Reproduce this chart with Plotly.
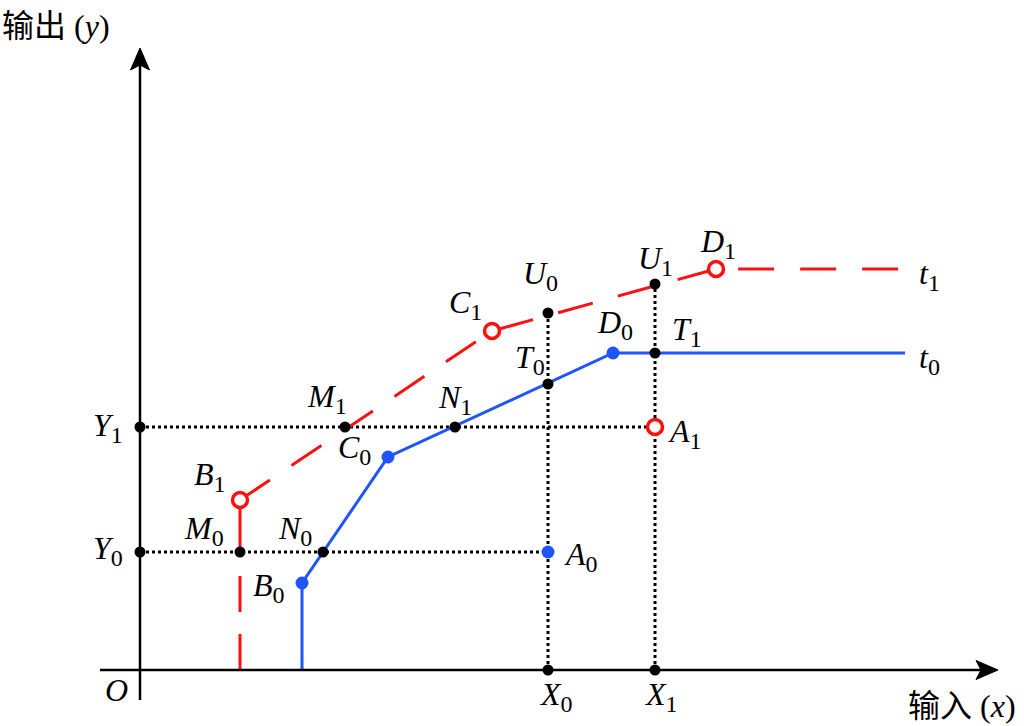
import plotly.graph_objects as go

# ---- data (arbitrary units) ----
X0, X1 = 40.8, 51.5
Y0, Y1 = 11.8, 24.3

t0_x = [16.2, 16.2, 24.8, 47.3, 76.5]
t0_y = [0.0, 8.7, 21.3, 31.7, 31.7]

t1_x = [10.0, 35.2, 57.6, 76.5]
t1_y = [17.0, 33.9, 40.1, 40.1]

B1 = (10.0, 17.0)
C1 = (35.2, 33.9)
D1 = (57.6, 40.1)
B0 = (16.2, 8.7)
C0 = (24.8, 21.3)
D0 = (47.3, 31.7)
A0 = (X0, Y0)
A1 = (X1, Y1)
U0 = (X0, 35.7)
T0 = (X0, 28.6)
U1 = (X1, 38.6)
T1 = (X1, 31.7)
M0 = (10.0, Y0)
N0 = (18.3, Y0)
M1 = (20.5, Y1)
N1 = (31.5, Y1)

RED = "#ff1010"
BLUE = "#1f55ff"
FONT = "Liberation Serif"

fig = go.Figure()

# dotted guide lines
def dotted(xs, ys):
    fig.add_trace(go.Scatter(x=xs, y=ys, mode="lines",
                             line=dict(color="black", width=3, dash="3px,3px"),
                             hoverinfo="skip", showlegend=False))

dotted([0, A1[0]], [Y1, Y1])
dotted([0, A0[0]], [Y0, Y0])
dotted([X0, X0], [0, U0[1]])
dotted([X1, X1], [0, U1[1]])

# red curve t1
fig.add_trace(go.Scatter(x=[M0[0], M0[0]], y=[0, M0[1]], mode="lines",
                         line=dict(color=RED, width=3, dash="36px,22px"),
                         hoverinfo="skip", showlegend=False))
fig.add_trace(go.Scatter(x=[B1[0], M0[0]], y=[B1[1], M0[1]], mode="lines",
                         line=dict(color=RED, width=3),
                         hoverinfo="skip", showlegend=False))
fig.add_trace(go.Scatter(x=t1_x, y=t1_y, mode="lines",
                         line=dict(color=RED, width=3, dash="36px,26px"),
                         hoverinfo="skip", showlegend=False))

# blue curve t0
fig.add_trace(go.Scatter(x=t0_x, y=t0_y, mode="lines",
                         line=dict(color=BLUE, width=3),
                         hoverinfo="skip", showlegend=False))

# black points
blk = [(0, Y1), (0, Y0), (X0, 0), (X1, 0), U0, T0, U1, T1, M0, N0, M1, N1]
fig.add_trace(go.Scatter(x=[p[0] for p in blk], y=[p[1] for p in blk], mode="markers",
                         marker=dict(color="black", size=11),
                         hoverinfo="skip", showlegend=False))
# blue points
bl = [B0, C0, D0, A0]
fig.add_trace(go.Scatter(x=[p[0] for p in bl], y=[p[1] for p in bl], mode="markers",
                         marker=dict(color=BLUE, size=13),
                         hoverinfo="skip", showlegend=False))
# red open points
rd = [B1, C1, D1, A1]
fig.add_trace(go.Scatter(x=[p[0] for p in rd], y=[p[1] for p in rd], mode="markers",
                         marker=dict(color="white", size=15, line=dict(color=RED, width=3.5)),
                         hoverinfo="skip", showlegend=False))

# axes with arrows
fig.add_shape(type="line", x0=-4, y0=0, x1=84.5, y1=0, line=dict(color="black", width=2.5))
fig.add_shape(type="line", x0=0, y0=-3.0, x1=0, y1=61.0, line=dict(color="black", width=2.5))
fig.add_shape(type="path", path="M 85.8 0 L 83.6 0.95 L 84.1 0 L 83.6 -0.95 Z",
              fillcolor="black", line=dict(color="black", width=1))
fig.add_shape(type="path", path="M 0 62.2 L -0.95 60.0 L 0 60.5 L 0.95 60.0 Z",
              fillcolor="black", line=dict(color="black", width=1))

# labels
def lab(text, pt, dx, dy, size=32):
    fig.add_annotation(x=pt[0], y=pt[1], text=text, showarrow=False,
                       xshift=dx, yshift=dy, font=dict(family=FONT, size=size, color="black"))

def sym(l, s):
    return f"<i>{l}</i><sub><span style='font-size:24px'>{s}</span></sub>"

lab(sym("Y", 1), (0, Y1), -32, 0)
lab(sym("Y", 0), (0, Y0), -32, 2)
lab(sym("X", 0), (X0, 0), 8, -26)
lab(sym("X", 1), (X1, 0), 6, -26)
lab("<i>O</i>", (0, 0), -24, -20)
lab(sym("B", 1), B1, -30, 24)
lab(sym("M", 0), M0, -36, 22)
lab(sym("N", 0), N0, -28, 22)
lab(sym("B", 0), B0, -33, -4)
lab(sym("C", 0), C0, -34, 8)
lab(sym("M", 1), M1, -18, 29)
lab(sym("N", 1), N1, 0, 28)
lab(sym("C", 1), C1, -27, 27)
lab(sym("U", 0), U0, -8, 38)
lab(sym("T", 0), T0, -18, 25)
lab(sym("D", 0), D0, 2, 29)
lab(sym("U", 1), U1, 0, 24)
lab(sym("T", 1), T1, 32, 22)
lab(sym("D", 1), D1, 2, 26)
lab(sym("A", 1), A1, 30, -6)
lab(sym("A", 0), A0, 33, -4)
lab(sym("t", 1), (t1_x[-1], t1_y[-1]), 24, -6)
lab(sym("t", 0), (t0_x[-1], t0_y[-1]), 24, -6)

fig.add_annotation(x=0, y=1, xref="paper", yref="paper", xanchor="left", yanchor="top",
                   text="<span style='font-family:Noto Sans CJK SC'>输出</span> (<i>y</i>)",
                   showarrow=False, xshift=0, yshift=2,
                   font=dict(family=FONT, size=32, color="black"))
fig.add_annotation(x=1, y=0, xref="paper", yref="paper", xanchor="right", yanchor="bottom",
                   text="<span style='font-family:Noto Sans CJK SC'>输入</span> (<i>x</i>)",
                   showarrow=False, xshift=-6, yshift=-2,
                   font=dict(family=FONT, size=32, color="black"))

fig.update_layout(width=1024, height=726, margin=dict(l=0, r=0, t=0, b=0),
                  plot_bgcolor="white", paper_bgcolor="white", showlegend=False)
fig.update_xaxes(range=[-14, 88.4], visible=False, fixedrange=True)
fig.update_yaxes(range=[-5.6, 67.0], visible=False, fixedrange=True)

fig.write_html("out.html", config={"displayModeBar": False, "staticPlot": True},
               post_script="document.body.style.margin='0';document.body.style.overflow='hidden';")
